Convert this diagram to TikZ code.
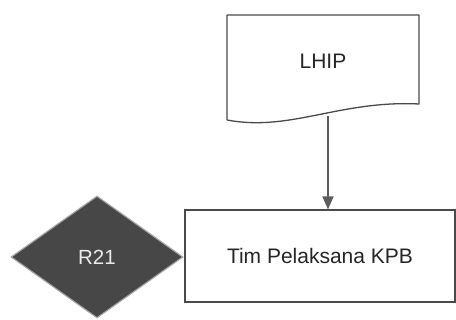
\documentclass[tikz,border=0pt]{standalone}
\usepackage{fontspec}
\setmainfont{Liberation Sans}
\usetikzlibrary{arrows.meta,shapes.geometric}
\definecolor{edgegray}{HTML}{4A4A4A}
\definecolor{diafill}{HTML}{474747}
\definecolor{arrgray}{HTML}{5C5C5C}
\tikzset{
  lbl/.style={font=\fontsize{21}{25}\selectfont, text=black!85},
  docline/.style={draw=edgegray, line width=1.3pt, line join=round},
  procbox/.style={draw=edgegray, line width=1.2pt, fill=white, inner sep=0pt, lbl},
  decision/.style={diamond, fill=diafill, draw=gray!70, line width=1.2pt, inner sep=0pt, font=\fontsize{20.5}{24}\selectfont, text=white!92!black},
  flow/.style={draw=arrgray, line width=1.3pt, -{Triangle[width=11pt,length=13pt]}, arrgray}
}
\begin{document}
\begin{tikzpicture}[x=1pt,y=-1pt]
\useasboundingbox (0,0) rectangle (456,320);
% document shape
\draw[docline] (227,120) -- (227,15) -- (419,15) -- (419,104)
  .. controls (340,100) and (290,132) .. (227,120);
\node[lbl] (lhip) at (323,61) {LHIP};
\coordinate (docbot) at (328,116);
% process box
\node[procbox, minimum width=270pt, minimum height=92pt] (tim) at (320,256) {Tim Pelaksana KPB};
% decision diamond
\node[decision, minimum width=172pt, minimum height=122pt] (r21) at (97,257) {R21};
% connector
\draw[flow] (docbot) -- (docbot |- tim.north);
\end{tikzpicture}
\end{document}
